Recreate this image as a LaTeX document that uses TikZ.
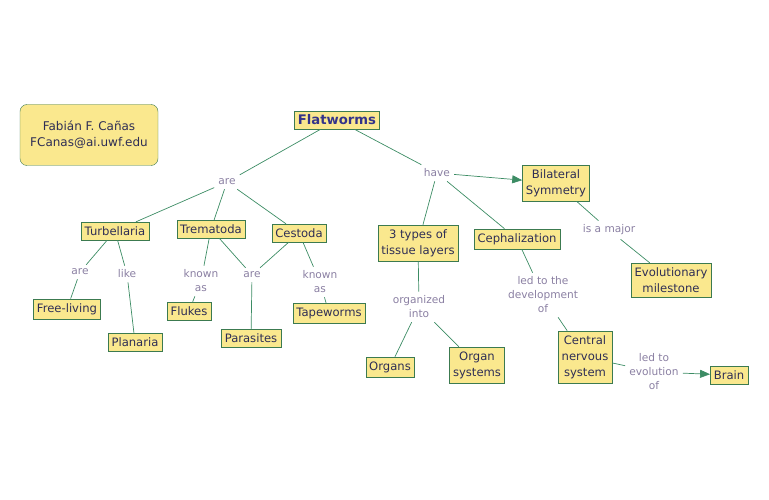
\documentclass[tikz,border=0pt]{standalone}
\usepackage{fontspec}
\setmainfont{DejaVu Sans}
\usetikzlibrary{arrows.meta, positioning}

\definecolor{boxfill}{HTML}{FAE88E}
\definecolor{boxline}{HTML}{3C7A50}
\definecolor{linkline}{HTML}{3C8C64}
\definecolor{linktext}{HTML}{8A7FA2}
\definecolor{conceptext}{HTML}{2E2E55}
\definecolor{titletext}{HTML}{33338A}

\begin{document}
\begin{tikzpicture}[x=1pt, y=-1pt,
    concept/.style={draw=boxline, fill=boxfill, text=conceptext, align=center,
        font=\fontsize{11.6}{16}\selectfont, inner xsep=3.5pt, inner ysep=4.5pt},
    linklabel/.style={text=linktext, align=center,
        font=\fontsize{10.6}{14}\selectfont, inner sep=4pt},
    link/.style={draw=linkline, line width=0.7pt},
    linkarrow/.style={link, -{Triangle[length=10pt, width=8pt]}}
]
    \useasboundingbox (0,0) rectangle (769,500);

    % Author box
    \node[concept, rounded corners=7pt, minimum width=138pt, minimum height=61pt,
        font=\fontsize{12}{16}\selectfont] (author) at (89,135)
        {Fabián F. Cañas\\FCanas@ai.uwf.edu};

    % Main concept
    \node[concept, text=titletext, inner ysep=4pt, font=\fontsize{13.2}{16}\selectfont\bfseries] (flatworms) at (337,120) {Flatworms};

    % Concepts
    \node[concept] (turbellaria) at (115,231) {Turbellaria};
    \node[concept] (trematoda) at (211,229) {Trematoda};
    \node[concept] (cestoda) at (299,233) {Cestoda};
    \node[concept] (bilateral) at (556,183) {Bilateral\\Symmetry};
    \node[concept] (tissue) at (418,243) {3 types of\\tissue layers};
    \node[concept] (cephal) at (517,239) {Cephalization};
    \node[concept] (milestone) at (671,280) {Evolutionary\\milestone};
    \node[concept] (freeliving) at (67,309) {Free-living};
    \node[concept] (planaria) at (135,342) {Planaria};
    \node[concept] (flukes) at (189,311) {Flukes};
    \node[concept] (parasites) at (251,338) {Parasites};
    \node[concept] (tapeworms) at (329,313) {Tapeworms};
    \node[concept] (organs) at (390,367) {Organs};
    \node[concept] (systems) at (477,365) {Organ\\systems};
    \node[concept] (cns) at (585,357) {Central\\nervous\\system};
    \node[concept] (brain) at (729,375) {Brain};

    % Linking phrases
    \node[linklabel] (are) at (227,182) {are};
    \node[linklabel] (have) at (437,173) {have};
    \node[linklabel] (ismajor) at (609,230) {is a major};
    \node[linklabel] (aretur) at (80,272) {are};
    \node[linklabel] (like) at (127,274) {like};
    \node[linklabel] (knowntre) at (201,281) {known\\as};
    \node[linklabel] (arepar) at (252,275) {are};
    \node[linklabel] (knownces) at (320,282) {known\\as};
    \node[linklabel] (organized) at (419,307) {organized\\into};
    \node[linklabel] (ledto) at (543,295) {led to the\\development\\of};
    \node[linklabel] (evolution) at (654,372) {led to\\evolution\\of};

    % Connections
    \draw[link] (flatworms) -- (are);
    \draw[link] (are) -- (turbellaria);
    \draw[link] (are) -- (trematoda);
    \draw[link] (are) -- (cestoda);
    \draw[link] (flatworms) -- (have);
    \draw[linkarrow] (have) -- (bilateral);
    \draw[link] (have) -- (tissue);
    \draw[link] (have) -- (cephal);
    \draw[link] (bilateral) -- (ismajor);
    \draw[link] (ismajor) -- (milestone);
    \draw[link] (turbellaria) -- (aretur);
    \draw[link] (aretur) -- (freeliving);
    \draw[link] (turbellaria) -- (like);
    \draw[link] (like) -- (planaria);
    \draw[link] (trematoda) -- (knowntre);
    \draw[link] (knowntre) -- (flukes);
    \draw[link] (trematoda) -- (arepar);
    \draw[link] (cestoda) -- (arepar);
    \draw[link] (arepar) -- (parasites);
    \draw[link] (cestoda) -- (knownces);
    \draw[link] (knownces) -- (tapeworms);
    \draw[link] (tissue) -- (organized);
    \draw[link] (organized) -- (organs);
    \draw[link] (organized) -- (systems);
    \draw[link] (cephal) -- (ledto);
    \draw[link] (ledto) -- (cns);
    \draw[link] (cns) -- (evolution);
    \draw[linkarrow] (evolution) -- (brain);
\end{tikzpicture}
\end{document}
